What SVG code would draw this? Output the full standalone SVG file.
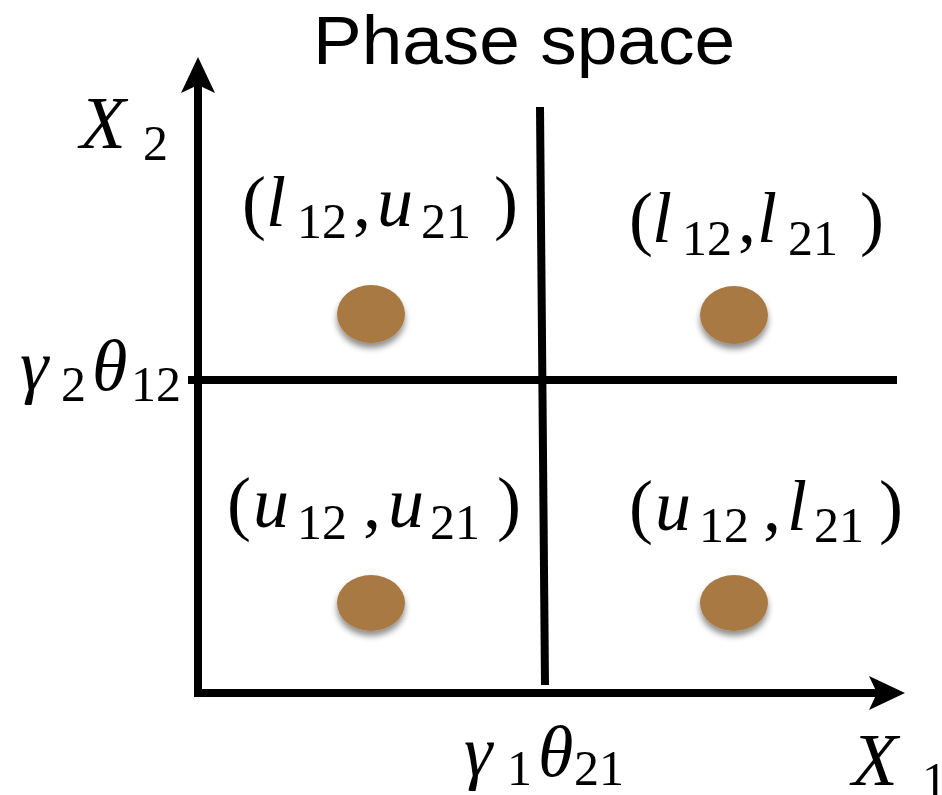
<svg xmlns="http://www.w3.org/2000/svg" width="942" height="795" viewBox="0 0 942 795">
<style>
.ax{stroke:#000;stroke-width:8;fill:none}
.dot{fill:#A87942;filter:url(#sh)}
</style>
<defs>
<marker id="ah" markerUnits="userSpaceOnUse" markerWidth="40" markerHeight="40" viewBox="-10 -20 40 40" refX="0" refY="0" orient="auto">
<path d="M28,0 L-8,-17 L0,0 L-8,17 Z" fill="#000"/>
</marker>
<filter id="sh" x="-30%" y="-30%" width="160%" height="170%">
<feDropShadow dx="0" dy="5" stdDeviation="3" flood-color="#000" flood-opacity="0.45"/>
</filter>
</defs>
<rect width="942" height="795" fill="#fff"/>
<text id="title" font-family="Liberation Sans" font-size="69" x="313" y="64" textLength="422" lengthAdjust="spacingAndGlyphs">Phase space</text>
<g id="connectors">
<line class="ax" x1="198" y1="697" x2="198" y2="85" marker-end="url(#ah)"/>
<line class="ax" x1="194" y1="693" x2="877" y2="693" marker-end="url(#ah)"/>
<line class="ax" x1="540" y1="107" x2="545" y2="685"/>
<line class="ax" x1="188" y1="380" x2="897" y2="380"/>
</g>
<g id="axis-x2">
<text font-family="Liberation Serif" x="80" y="148" font-size="75"><tspan font-style="italic">X</tspan><tspan x="143" y="160" font-size="50">2</tspan></text>
</g>
<g id="axis-x1">
<text font-family="Liberation Serif" x="852" y="785" font-size="75"><tspan font-style="italic">X</tspan><tspan x="922" y="797" font-size="50">1</tspan></text>
</g>
<g id="threshold-y">
<text font-family="Liberation Serif" x="20" y="390" font-size="72"><tspan font-style="italic">γ</tspan><tspan x="61" y="401" font-size="50">2</tspan><tspan x="92" y="390" font-style="italic">θ</tspan><tspan x="131" y="401" font-size="50">12</tspan></text>
</g>
<g id="threshold-x">
<text font-family="Liberation Serif" x="464" y="776" font-size="72"><tspan font-style="italic">γ</tspan><tspan x="507" y="785" font-size="50">1</tspan><tspan x="538" y="776" font-style="italic">θ</tspan><tspan x="574" y="785" font-size="50">21</tspan></text>
</g>
<g id="q-top-left">
<text font-family="Liberation Serif" x="242" y="226" font-size="72">(<tspan font-style="italic" x="266">l</tspan><tspan x="297" y="238" font-size="50">12</tspan><tspan x="353" y="226">,</tspan><tspan font-style="italic" x="377">u</tspan><tspan x="421" y="238" font-size="50">21</tspan><tspan x="494" y="226">)</tspan></text>
<ellipse class="dot" cx="371" cy="314" rx="34" ry="29"/>
</g>
<g id="q-top-right">
<text font-family="Liberation Serif" x="629" y="242" font-size="72">(<tspan font-style="italic" x="652">l</tspan><tspan x="682" y="255" font-size="50">12</tspan><tspan x="738" y="242">,</tspan><tspan font-style="italic" x="757">l</tspan><tspan x="788" y="255" font-size="50">21</tspan><tspan x="860" y="242">)</tspan></text>
<ellipse class="dot" cx="734" cy="315" rx="34" ry="29"/>
</g>
<g id="q-bottom-left">
<text font-family="Liberation Serif" x="227" y="527" font-size="72">(<tspan font-style="italic" x="253">u</tspan><tspan x="297" y="539" font-size="50">12</tspan><tspan x="363" y="527">,</tspan><tspan font-style="italic" x="388">u</tspan><tspan x="430" y="539" font-size="50">21</tspan><tspan x="497" y="527">)</tspan></text>
<ellipse class="dot" cx="371" cy="603" rx="34" ry="28"/>
</g>
<g id="q-bottom-right">
<text font-family="Liberation Serif" x="629" y="530" font-size="72">(<tspan font-style="italic" x="655">u</tspan><tspan x="699" y="542" font-size="50">12</tspan><tspan x="763" y="530">,</tspan><tspan font-style="italic" x="787">l</tspan><tspan x="814" y="542" font-size="50">21</tspan><tspan x="879" y="530">)</tspan></text>
<ellipse class="dot" cx="734" cy="603" rx="34" ry="28"/>
</g>
</svg>
